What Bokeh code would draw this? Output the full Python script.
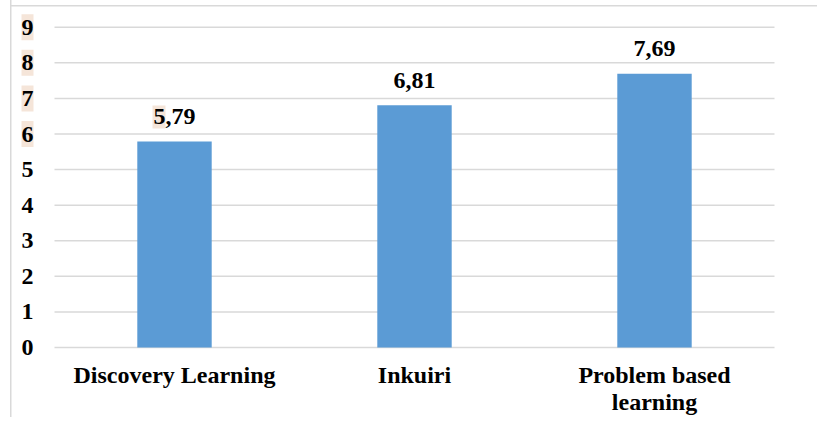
from bokeh.plotting import figure
from bokeh.models import FactorRange, LabelSet, ColumnDataSource
from bokeh.embed import file_html
from bokeh.resources import INLINE

categories = ["Discovery Learning", "Inkuiri", "Problem based\nlearning"]
scores = [5.79, 6.81, 7.69]
y_ticks = [0, 1, 2, 3, 4, 5, 6, 7, 8, 9]
highlighted_ticks = [6, 7, 8, 9]
tick_labels = [str(t) for t in y_ticks]
value_labels = [f"{v:.2f}".replace(".", ",") for v in scores]

FONT = "Liberation Serif"
FS = "24px"
HILITE = "#F5E5D9"
GRID = "#d9d9d9"

PX_PER_FACTOR = 240.0   # frame pixels per category
PX_PER_UNIT = 35.69     # frame pixels per y unit

p = figure(width=817, height=417,
           x_range=FactorRange(factors=categories, range_padding=0.175,
                               range_padding_units="absolute"),
           y_range=(-0.392, 9.442),
           output_backend="svg", toolbar_location=None,
           min_border_left=12, min_border_right=1,
           min_border_top=11, min_border_bottom=55)
p.border_fill_color = None
p.styles = {"box-shadow": "inset 10px 0 0 #ffffff, inset 11.5px 0 0 #d9d9d9, "
                          "inset 0 5px 0 #ffffff, inset 0 6.5px 0 #d9d9d9",
            "background-color": "#ffffff"}
p.outline_line_color = None
p.xgrid.grid_line_color = None
p.ygrid.grid_line_color = None
p.yaxis.visible = False

# horizontal grid lines spanning the categories
n = len(categories)
p.segment(x0=[0] * len(y_ticks), x1=[n] * len(y_ticks), y0=y_ticks, y1=y_ticks,
          line_color=GRID, line_width=1.5)

# bars
src = ColumnDataSource(dict(cat=categories, val=scores, lab=value_labels))
p.vbar(x="cat", top="val", bottom=0, width=0.31, source=src,
       fill_color="#5B9BD5", line_color=None)

# beige highlights behind tick labels 6-9
p.rect(x=[-27 / PX_PER_FACTOR] * len(highlighted_ticks), y=highlighted_ticks,
       width=12, height=26, width_units="screen", height_units="screen",
       fill_color=HILITE, line_color=None)

# y tick labels
p.text(x=[0] * len(y_ticks), y=y_ticks, text=tick_labels, x_offset=-21,
       text_align="right", text_baseline="middle", text_font={"value": FONT},
       text_font_style="bold", text_font_size=FS, text_color="#000000")

# beige highlight behind the "5" of the first value label
p.rect(x=[0.5 - 15.5 / PX_PER_FACTOR], y=[scores[0] + 24.5 / PX_PER_UNIT],
       width=13, height=23, width_units="screen", height_units="screen",
       fill_color=HILITE, line_color=None)

# x axis
ax = p.xaxis[0]
ax.axis_line_color = None
ax.major_tick_line_color = None
ax.minor_tick_line_color = None
ax.major_tick_out = 0
ax.major_tick_in = 0
ax.major_label_text_font = FONT
ax.major_label_text_font_style = "bold"
ax.major_label_text_font_size = FS
ax.major_label_text_color = "#000000"
ax.major_label_standoff = 0
ax.major_label_text_line_height = 1.05

# value labels
p.add_layout(LabelSet(x="cat", y="val", text="lab", source=src, y_offset=25,
                      text_align="center", text_baseline="middle",
                      text_font=FONT, text_font_style="bold", text_font_size=FS,
                      text_color="#000000"))

open("out.html", "w").write(file_html(p, INLINE))
